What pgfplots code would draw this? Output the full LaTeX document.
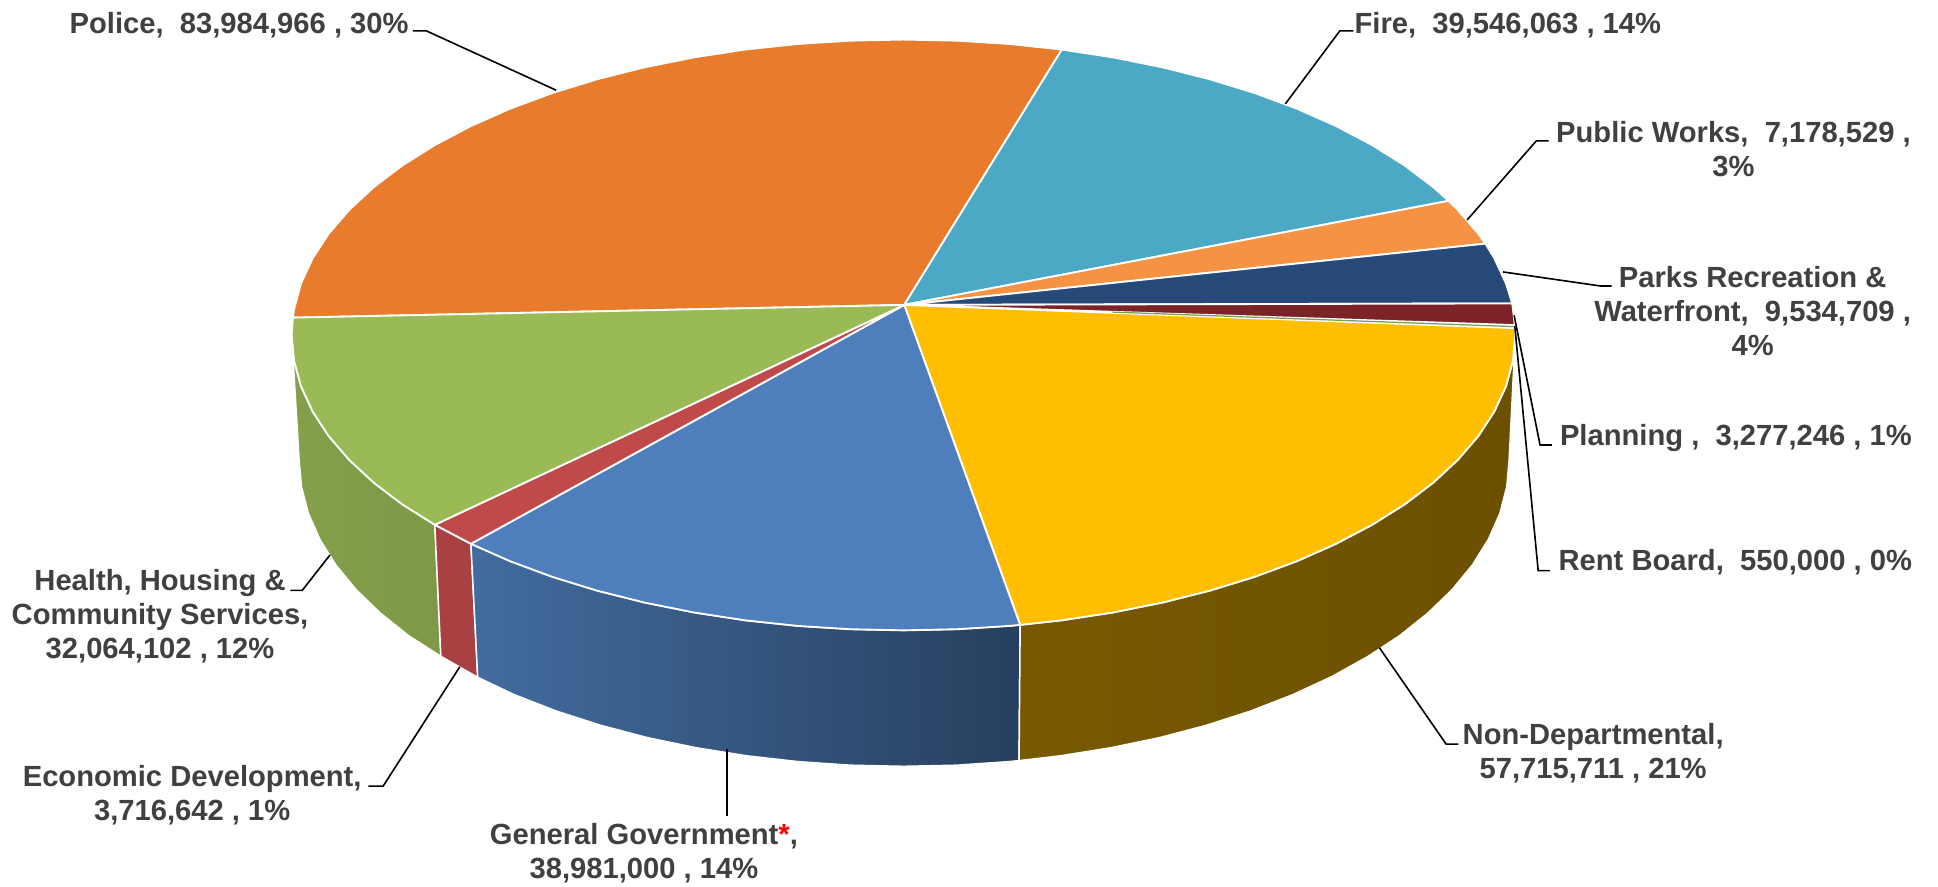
\documentclass[border=0pt]{standalone}
\usepackage{pgfplots}
\pgfplotsset{compat=1.18}
\usepackage{fontspec}
\setmainfont{Liberation Sans}
\definecolor{labeltext}{HTML}{404040}
\definecolor{policeC}{HTML}{E97B2C}
\definecolor{fireC}{HTML}{4BA9C6}
\definecolor{worksC}{HTML}{F59343}
\definecolor{parksC}{HTML}{27497A}
\definecolor{planC}{HTML}{7B2327}
\definecolor{rentC}{HTML}{7F9A55}
\definecolor{nondepC}{HTML}{FFBE00}
\definecolor{govC}{HTML}{4E7FBC}
\definecolor{econC}{HTML}{C0494A}
\definecolor{healthC}{HTML}{9ABA56}
\tikzset{
  face/.style={draw=white, line width=0.75pt, line join=round},
  side/.style={draw=white, line width=0.6pt, line join=round},
  leader/.style={draw=black, line width=0.65pt, line join=miter},
  lab/.style={font=\fontsize{11.8}{13.75}\selectfont\bfseries, text=labeltext, align=center, inner sep=0pt},
}
\begin{document}
\begin{tikzpicture}
\begin{axis}[
  width=784pt, height=358.5pt, scale only axis,
  xmin=0, xmax=1568, ymin=0, ymax=717, y dir=reverse,
  axis lines=none, clip=false,
]
% Keep the whole plotting rectangle in the picture's bounding box
\path (axis cs:0,0) (axis cs:1568,717);
% Rim of the disc, one strip per visible slice
\addplot[side, left color=healthC!86!black, right color=healthC!82!black] coordinates {
 (236,271) (237.9,291.8) (243.5,312.5) (252.9,332.9) (265.8,352.7) (282.4,372) (302.3,390.5) (325.5,408.1) (351.8,424.6)
 (356.7,531) (330.6,514.3) (307.7,496) (287.9,476.8) (271.5,456.8) (258.7,436.2) (249.4,415.1) (243.9,393.6) (242,372)
} -- cycle;
\addplot[side, fill=econC!88!black] coordinates {
 (351.8,424.6) (381,440) (386.5,548) (356.7,531)
} -- cycle;
\addplot[side, left color=govC!85!black, middle color=govC!68!black, right color=govC!50!black] coordinates {
 (381,440) (412.8,454.1) (447.1,466.8) (483.5,478) (521.8,487.6) (561.7,495.6) (602.9,501.9) (645.1,506.4) (687.8,509.1) (731,510) (774.2,509.1) (816.9,506.4) (825.4,505.6)
 (824.5,615.4) (816.1,616.2) (773.7,619.1) (731,620) (688.3,619.1) (645.9,616.2) (604.2,611.5) (563.4,605) (523.9,596.8) (486,586.8) (449.9,575.2) (416,562) (386.5,548)
} -- cycle;
\addplot[side, left color=nondepC!47!black, right color=nondepC!42!black] coordinates {
 (825.4,505.6) (859.1,501.9) (900.3,495.6) (940.2,487.6) (978.5,478) (1014.9,466.8) (1049.2,454.1) (1081,440) (1110.2,424.6) (1136.5,408.1) (1159.7,390.5) (1179.6,372) (1196.2,352.7) (1209.1,332.9) (1218.5,312.5) (1224.1,291.8) (1226,271)
 (1221,372) (1219.1,393.6) (1213.6,415.1) (1204.3,436.2) (1191.5,456.8) (1175.1,476.8) (1155.3,496) (1132.4,514.3) (1106.3,531.4) (1077.5,547.4) (1046,562) (1012.1,575.2) (976,586.8) (938.1,596.8) (898.6,605) (857.8,611.5) (824.5,615.4)
} -- cycle;
% Top face, one wedge per department
\addplot[face, fill=policeC] coordinates {
 (731.6,246.7) (859.1,40.1) (816.9,35.6) (774.2,32.9) (731,32) (687.8,32.9) (645.1,35.6) (602.9,40.1) (561.7,46.4) (521.8,54.4) (483.5,64) (447.1,75.2) (412.8,87.9) (381,102) (351.8,117.4) (325.5,133.9) (302.3,151.5) (282.4,170) (265.8,189.3) (252.9,209.1) (243.5,229.5) (237.9,250.2) (237,257)
} -- cycle;
\addplot[face, fill=fireC] coordinates {
 (731.6,246.7) (1172,162.5) (1159.7,151.5) (1136.5,133.9) (1110.2,117.4) (1081,102) (1049.2,87.9) (1014.9,75.2) (978.5,64) (940.2,54.4) (900.3,46.4) (859.1,40.1)
} -- cycle;
\addplot[face, fill=worksC] coordinates {
 (731.6,246.7) (1201.8,197.1) (1196.2,189.3) (1179.6,170) (1172,162.5)
} -- cycle;
\addplot[face, fill=parksC] coordinates {
 (731.6,246.7) (1223.5,245.5) (1218.5,229.5) (1209.1,209.1) (1201.8,197.1)
} -- cycle;
\addplot[face, fill=planC] coordinates {
 (731.6,246.7) (1225.6,263) (1224.1,250.2) (1223.5,245.5)
} -- cycle;
\addplot[face, fill=nondepC] coordinates {
 (731.6,246.7) (1226,265.5) (1226,271) (1224.1,291.8) (1218.5,312.5) (1209.1,332.9) (1196.2,352.7) (1179.6,372) (1159.7,390.5) (1136.5,408.1) (1110.2,424.6) (1081,440) (1049.2,454.1) (1014.9,466.8) (978.5,478) (940.2,487.6) (900.3,495.6) (859.1,501.9) (825.4,505.6)
} -- cycle;
\addplot[face, fill=govC] coordinates {
 (731.6,246.7) (825.4,505.6) (816.9,506.4) (774.2,509.1) (731,510) (687.8,509.1) (645.1,506.4) (602.9,501.9) (561.7,495.6) (521.8,487.6) (483.5,478) (447.1,466.8) (412.8,454.1) (381,440)
} -- cycle;
\addplot[face, fill=econC] coordinates {
 (731.6,246.7) (381,440) (351.8,424.6)
} -- cycle;
\addplot[face, fill=healthC] coordinates {
 (731.6,246.7) (351.8,424.6) (325.5,408.1) (302.3,390.5) (282.4,372) (265.8,352.7) (252.9,332.9) (243.5,312.5) (237.9,291.8) (236,271) (237,257)
} -- cycle;
% Rent Board is too thin to show more than a hairline
\addplot[draw=rentC, line width=0.5pt] coordinates {(900,252.5) (1225.8,264.3)};
% Leader lines
\addplot[leader] coordinates {(450,73) (345,25) (334,25)};
\addplot[leader] coordinates {(1040,84) (1084,25) (1095,25)};
\addplot[leader] coordinates {(1187,178) (1243,114) (1253,114)};
\addplot[leader] coordinates {(1216,220) (1295,231.4) (1304,231.4)};
\addplot[leader] coordinates {(1225,255) (1246,360) (1255.5,360)};
\addplot[leader] coordinates {(1225.6,264) (1244.5,461.7) (1254,461.7)};
\addplot[leader] coordinates {(1116,524) (1170,602) (1180,602)};
\addplot[leader] coordinates {(588,606) (588,660)};
\addplot[leader] coordinates {(372,539.5) (310,636) (298,636)};
\addplot[leader] coordinates {(267,449) (244.6,477.6) (235,477.6)};
% Data labels
\node[lab, anchor=center] at (axis cs:193.5,20) {Police,\ \ 83,984,966 , 30\%};
\node[lab, anchor=center] at (axis cs:1220,20) {Fire,\ \ 39,546,063 , 14\%};
\node[lab, anchor=center] at (axis cs:1402.5,120.5) {Public Works,\ \ 7,178,529 ,\\3\%};
\node[lab, anchor=center] at (axis cs:1418,251.5) {Parks Recreation \&\\Waterfront,\ \ 9,534,709 ,\\4\%};
\node[lab, anchor=center] at (axis cs:1404.5,354.5) {Planning ,\ \ 3,277,246 , 1\%};
\node[lab, anchor=center] at (axis cs:1404,455) {Rent Board,\ \ 550,000 , 0\%};
\node[lab, anchor=center] at (axis cs:1289,609.5) {Non-Departmental,\\57,715,711 , 21\%};
\node[lab, anchor=center] at (axis cs:521,690.5) {General Government\textcolor{red}{*},\\38,981,000 , 14\%};
\node[lab, anchor=center] at (axis cs:155.5,643.5) {Economic Development,\\3,716,642 , 1\%};
\node[lab, anchor=center] at (axis cs:129.5,498.5) {Health, Housing \&\\Community Services,\\32,064,102 , 12\%};
\end{axis}
\end{tikzpicture}
\end{document}
